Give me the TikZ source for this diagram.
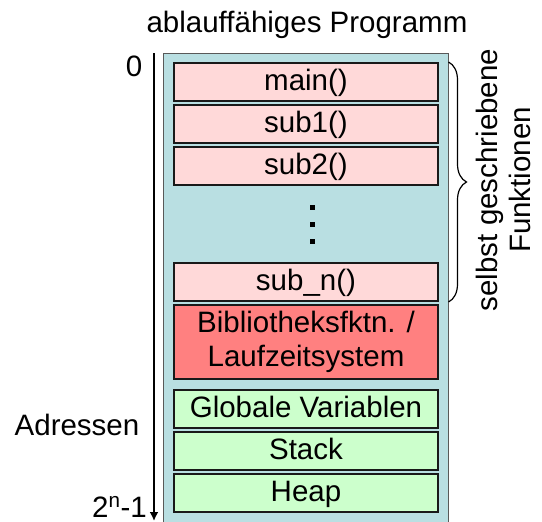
\documentclass[tikz,border=0pt]{standalone}
\usepackage{fontspec}
\setmainfont{Liberation Sans}
\usetikzlibrary{arrows.meta,decorations.pathreplacing}

\definecolor{progblue}{RGB}{185,223,226}
\definecolor{funcpink}{RGB}{255,217,217}
\definecolor{libred}{RGB}{255,128,128}
\definecolor{datagreen}{RGB}{204,255,204}
\definecolor{edge}{RGB}{25,25,25}

\begin{document}
\begin{tikzpicture}[x=1pt,y=-1pt,
  every node/.style={font=\fontsize{29.5}{34}\selectfont, inner sep=0pt},
  segment/.style={draw=edge, line width=2pt, minimum width=264pt,
    minimum height=38pt, text height=22pt, text depth=6pt},
  func/.style={segment, fill=funcpink},
  lib/.style={segment, fill=libred, minimum height=74pt,
    align=center, text height=, text depth=},
  data/.style={segment, fill=datagreen},
  label/.style={anchor=base}]

  \clip (0,0) rectangle (542,522);

  % the whole program image
  \node[draw=gray!70!black, line width=1pt, fill=progblue,
        minimum width=285pt, minimum height=478pt] (prog) at (305.5,292) {};

  % title
  \node[label] (title) at (307,33) {ablauffähiges Programm};

  % self-written functions
  \node[func] (main) at (306,82)  {main()};
  \node[func] (sub1) at (306,124) {sub1()};
  \node[func] (sub2) at (306,166) {sub2()};
  \node[func] (subn) at (306,282) {sub\_n()};

  % vertical ellipsis between sub2() and sub_n()
  \foreach \yy in {207,224,241}
    \fill (309.5,\yy-2.5) rectangle ++(5,5);

  % runtime library
  \node[lib] (lib) at (306,342) {Bibliotheksfktn. /\\Laufzeitsystem};

  % data segments
  \node[data] (glob)  at (306,409) {Globale Variablen};
  \node[data] (stack) at (306,451) {Stack};
  \node[data] (heap)  at (306,493) {Heap};

  % address axis
  \coordinate (atop) at (154,53);
  \coordinate (abot) at (154,521);
  \draw[line width=2.5pt, -{Latex[length=9pt,width=9pt]}] (atop) -- (abot);
  \node[label] (zero) at (134,77) {0};
  \node[label] (addr) at (77,435) {Adressen};
  \node[anchor=base east] (top) at (147,517) {2\textsuperscript{n}-1};

  % brace over the self-written functions
  \draw[line width=1.2pt, decorate, decoration={brace, amplitude=18pt}]
    (main.north -| prog.east) -- (subn.south -| prog.east);
  \node[rotate=90, align=center, font=\fontsize{29.5}{33}\selectfont]
    (own) at (503,180) {selbst geschriebene\\Funktionen};
\end{tikzpicture}
\end{document}
